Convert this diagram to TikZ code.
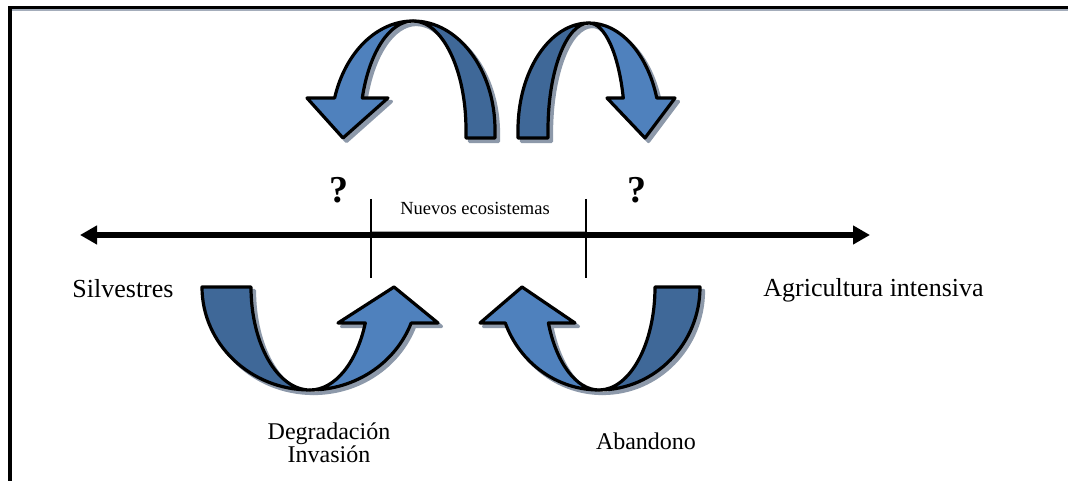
\documentclass[tikz,border=0pt]{standalone}
\usepackage{fontspec}
\setmainfont{Liberation Serif}
\usetikzlibrary{arrows.meta}
\definecolor{lightblue}{HTML}{4F81BD}
\definecolor{darkblue}{HTML}{3F6898}
\definecolor{shadowgray}{HTML}{8D99AA}
\tikzset{
  lightband/.style={fill=lightblue, draw=black, line width=3.2pt, line join=round},
  darkband/.style={fill=darkblue, draw=black, line width=3.2pt, line join=round},
  shadowband/.style={fill=shadowgray, draw=shadowgray, line width=3.2pt, line join=round},
  axisline/.style={line width=6pt, {Triangle[length=17pt,width=18pt]}-{Triangle[length=17pt,width=18pt]}},
  tickline/.style={line width=2.5pt},
  framestyle/.style={line width=3.5pt, line join=miter},
  lbl/.style={inner sep=0pt, anchor=base},
}
\newcommand\ArrowShapes[2]{%
  % top-left arch (light half with head, dark half as foot)
  \path[#1] (413,460) arc[start angle=90, end angle=162.93, x radius=82pt, y radius=109pt]
     -- (307,383) -- (343,343) -- (388,383) -- (362.3,383)
     arc[start angle=162.93, end angle=90, x radius=53pt, y radius=109pt] -- cycle;
  \path[#2] (413,460) arc[start angle=90, end angle=0, x radius=82pt, y radius=109pt]
     -- (495,343) -- (466,343) -- (466,351)
     arc[start angle=0, end angle=90, x radius=53pt, y radius=109pt] -- cycle;
  % top-right arch
  \path[#1] (589,458) arc[start angle=90, end angle=17.4, x radius=71pt, y radius=107pt]
     -- (675,383) -- (645,343) -- (607,383) -- (623.3,383)
     arc[start angle=17.4, end angle=90, x radius=36pt, y radius=107pt] -- cycle;
  \path[#2] (589,458) arc[start angle=90, end angle=180, x radius=71pt, y radius=107pt]
     -- (518,343) -- (548,343) -- (548,351)
     arc[start angle=180, end angle=90, x radius=41pt, y radius=107pt] -- cycle;
  % bottom-left U
  \path[#2] (202,194) arc[start angle=180, end angle=270, x radius=108pt, y radius=103pt]
     arc[start angle=270, end angle=180, x radius=59pt, y radius=103pt] -- cycle;
  \path[#1] (310,91) arc[start angle=270, end angle=339.54, x radius=108pt, y radius=103pt]
     -- (438,158) -- (394,194) -- (338,158) -- (365.3,158)
     arc[start angle=339.54, end angle=270, x radius=59pt, y radius=103pt] -- cycle;
  % bottom-right U
  \path[#2] (700,194) arc[start angle=0, end angle=-90, x radius=101pt, y radius=103pt]
     arc[start angle=-90, end angle=0, x radius=56pt, y radius=103pt] -- cycle;
  \path[#1] (599,91) arc[start angle=270, end angle=200.46, x radius=100pt, y radius=103pt]
     -- (480,158) -- (522,194) -- (575,158) -- (548.4,158)
     arc[start angle=200.46, end angle=270, x radius=54pt, y radius=103pt] -- cycle;
}
\begin{document}
\begin{tikzpicture}[x=1pt, y=1pt]
  \useasboundingbox (0,0) rectangle (1068,481);
  \clip (0,0) rectangle (1068,481);
  \fill[white] (0,0) rectangle (1068,481);
  % frame (partly outside the picture)
  \coordinate (fbl) at (10,-10);
  \coordinate (ftl) at (10,473.3);
  \coordinate (ftr) at (1080,473.3);
  \draw[shadowgray!80, line width=1.2pt] (12,471) -- (1080,471);
  \draw[framestyle] (fbl) -- (ftl) -- (ftr);
  % curved arrows with shadows
  \begin{scope}[shift={(3.5,-3.5)}]
    \ArrowShapes{shadowband}{shadowband}
  \end{scope}
  \ArrowShapes{lightband}{darkband}
  % axis
  \coordinate (axL) at (80,246);
  \coordinate (axR) at (870,246);
  \draw[axisline] (axL) -- (axR);
  \coordinate (t1a) at (371,282);
  \coordinate (t1b) at (371,203);
  \coordinate (t2a) at (586,282);
  \coordinate (t2b) at (586,203);
  \draw[gray!70, line width=0.9pt] (t1a |- 0,249.8) -- (t2a |- 0,249.8);
  \draw[tickline] (t1a) -- (t1b);
  \draw[tickline] (t2a) -- (t2b);
  % labels
  \node[lbl, font=\fontsize{26}{30}\selectfont] (silv) at (123,183) {Silvestres};
  \node[lbl, font=\fontsize{26}{30}\selectfont] (agri) at (873.5,184) {Agricultura intensiva};
  \node[lbl, font=\fontsize{18.5}{22}\selectfont] (nuevos) at (475,266) {Nuevos ecosistemas};
  \node[lbl, font=\fontsize{38}{42}\selectfont\bfseries] (q1) at (338.5,278) {?};
  \node[lbl, font=\fontsize{38}{42}\selectfont\bfseries] (q2) at (637,278) {?};
  \node[lbl, font=\fontsize{24}{28}\selectfont] (degr) at (329,41) {Degradación};
  \node[lbl, font=\fontsize{24}{28}\selectfont] (inv) at (329,18) {Invasión};
  \node[lbl, font=\fontsize{24}{28}\selectfont] (aban) at (646,31) {Abandono};
\end{tikzpicture}
\end{document}
